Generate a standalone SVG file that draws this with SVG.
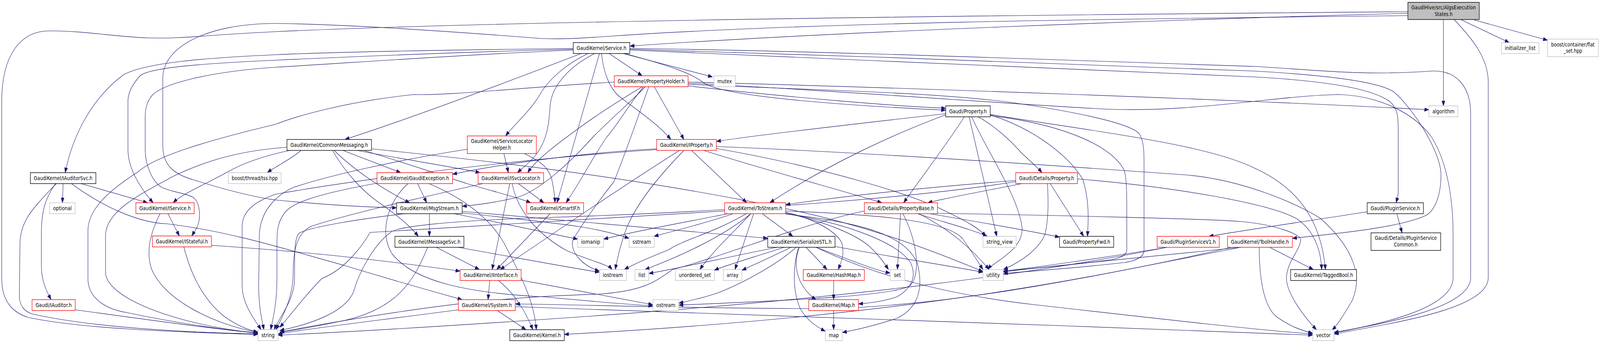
<svg xmlns="http://www.w3.org/2000/svg" width="4639" height="878" viewBox="0 0 4639 878">
<style>
.n rect{fill:#fff;stroke-width:1.4}
.k rect{stroke:#000}
.r rect{stroke:#ff0000}
.g rect{stroke:#bfbfbf}
#n_root rect{fill:#bfbfbf}
text{font-family:"DejaVu Sans Condensed","DejaVu Sans",sans-serif;font-size:14px;text-anchor:middle;fill:#000}
#edges path{fill:none;stroke:#191970;stroke-width:1.15;marker-end:url(#a)}
</style>
<defs>
<marker id="a" markerWidth="13" markerHeight="10" refX="13" refY="4.75" orient="auto" markerUnits="userSpaceOnUse"><path d="M0,0 L13,4.75 L0,9.5 z" fill="#191970" stroke="#191970" stroke-width="0.8"/></marker>
</defs>
<rect x="0" y="0" width="4639" height="878" fill="#fff"/>
<g id="diagram" transform="scale(0.88295,1)">
<g id="edges">
<path d="M4082,34 C3400,50 2400,82 1826,118"/>
<path d="M4082,30 C3000,38 1500,52 800,81 C600,89 530,100 430,97 C330,94 250,79 143,79 C60,79 5,140 5,260 L5,713 C5,775 40,800 80,812 C220,840 500,850 748,856"/>
<path d="M4082,40 C3300,48 2400,55 1780,92 C1700,97 1620,102 1560,98 C1300,80 1000,62 800,60 C600,60 472,120 472,200 L472,373 C472,420 500,445 560,460 C650,485 740,505 800,512 C950,525 1050,530 1150,532"/>
<path d="M4185,50 L4185,271"/>
<path d="M4235,50 L4376,109"/>
<path d="M4274,51 L4487,103"/>
<path d="M4216,50 C4270,100 4315,150 4315,210 L4315,711 C4315,790 4050,825 3868,855"/>
<path d="M1662,124 C1300,128 1000,132 800,140 C600,148 420,160 357,192 C270,250 212,340 189,442"/>
<path d="M1662,126 C1300,134 1000,146 800,154 C600,162 430,172 405,195 C380,220 371,240 371,260 L371,383 C371,430 405,480 444,519"/>
<path d="M1662,128 C1300,142 1000,162 800,172 C600,184 470,215 440,245 C425,262 421,280 421,300 L421,383 C421,420 440,465 470,480 C500,492 540,495 560,505 C582,520 582,560 572,580 C566,592 560,598 556,604"/>
<path d="M1685,137 C1500,200 1200,300 1000,357"/>
<path d="M1705,137 C1650,160 1590,200 1560,250 C1530,290 1490,320 1466,348"/>
<path d="M1724,137 C1650,170 1600,220 1595,270 C1592,320 1585,360 1555,395 C1535,418 1515,430 1500,442"/>
<path d="M1738,137 L1615,519"/>
<path d="M1744,137 C1750,190 1770,230 1800,250 C1860,290 1910,320 1945,357"/>
<path d="M1766,137 L1862,194"/>
<path d="M1798,135 L2066,197"/>
<path d="M1811,137 C1950,170 2010,190 2040,212 C2100,250 2500,272 2742,282"/>
<path d="M1826,124 C2400,130 3200,158 3639,170 C3800,178 3950,195 4149,182 C4230,178 4264,230 4264,290 L4264,711 C4264,790 4000,830 3868,851"/>
<path d="M1826,126 C2400,140 3300,170 3639,182 C3800,190 3990,205 4041,235 C4100,280 4178,390 4178,448 C4178,500 4160,540 4133,552 C4050,585 3850,600 3747,610"/>
<path d="M1826,128 C2400,150 3300,185 3639,197 C3900,210 3990,235 4030,260 C4054,280 4054,300 4054,340 L4054,490 C4054,505 4050,512 4048,519"/>
<path d="M1995,220 C2300,250 2600,272 2742,277"/>
<path d="M1995,210 C2600,224 3600,255 4143,281"/>
<path d="M1995,213 C2400,230 2900,265 3200,279 C3450,290 3700,245 3881,242 C4000,245 4100,290 4150,350 C4200,420 4213,520 4213,600 L4213,711 C4213,790 4000,830 3868,852"/>
<path d="M1995,216 C2400,232 2700,236 2930,262 C3150,290 3290,320 3305,345 C3317,365 3317,390 3317,420 L3317,640 C3317,660 3290,668 3260,672 C3100,688 2960,696 2909,700"/>
<path d="M1781,210 C1500,225 1300,245 1200,242 C1000,260 850,300 800,318 C600,360 450,400 400,440 C330,480 255,530 255,590 L255,713 C255,760 300,790 367,800 C500,825 650,845 748,852"/>
<path d="M1897,222 L1983,357"/>
<path d="M1862,222 C1800,255 1720,300 1660,340 C1590,385 1550,415 1530,442"/>
<path d="M1871,222 C1830,260 1780,297 1720,350 C1650,420 1560,490 1500,505 C1430,520 1380,525 1340,528"/>
<path d="M1866,222 C1830,260 1790,320 1760,350 C1720,400 1680,470 1641,519"/>
<path d="M1881,222 C1850,300 1810,400 1780,465 C1740,510 1690,570 1660,616 C1655,650 1690,680 1738,694"/>
<path d="M1970,385 C1800,480 1600,600 1450,690"/>
<path d="M1983,385 C1900,460 1835,533 1810,600 C1795,640 1788,670 1784,690"/>
<path d="M1904,381 C1700,390 1450,420 1312,446"/>
<path d="M1904,383 C1600,400 1100,450 800,497 C740,515 702,540 702,580 L702,730 C702,780 740,820 757,844"/>
<path d="M2005,385 L2165,519"/>
<path d="M2040,385 C2200,430 2450,490 2557,519"/>
<path d="M2077,375 C2500,390 3000,420 3442,448 C3600,460 3760,520 3830,560 C3930,640 3950,711 3920,770 C3900,800 3880,830 3862,845"/>
<path d="M2077,380 C2400,430 2650,500 2740,540 C2800,565 2840,585 2858,605"/>
<path d="M2742,291 C2500,315 2200,345 2077,362"/>
<path d="M2742,294 C2600,340 2400,420 2232,519"/>
<path d="M2796,299 C2760,350 2700,420 2620,519"/>
<path d="M2836,299 C2880,320 2930,359 2960,390 C2990,415 3010,430 3021,442"/>
<path d="M2810,299 L2890,605"/>
<path d="M2817,299 C2870,400 2950,500 2963,580 C2970,640 2880,670 2864,690"/>
<path d="M2871,294 C3000,330 3100,400 3140,460 C3160,520 3155,570 3153,605"/>
<path d="M2871,293 C3200,340 3500,370 3639,431 C3760,480 3830,560 3843,690"/>
<path d="M2871,296 C3100,320 3230,380 3260,437 C3267,460 3267,500 3267,540 L3267,640 C3267,655 3240,662 3220,665 C3100,680 2950,690 2909,694"/>
<path d="M3045,470 L3142,605"/>
<path d="M3037,470 C3040,520 3040,560 3030,600 C3010,640 2960,670 2909,690"/>
<path d="M2945,462 C2740,476 2500,495 2278,524"/>
<path d="M2963,470 C2850,490 2750,505 2690,519"/>
<path d="M2945,465 C2700,500 2200,540 1580,557 C1300,565 1150,580 1132,595 C1080,630 1040,700 1025,747 C1000,800 900,830 811,846"/>
<path d="M3124,458 C3400,478 3680,520 3760,560 C3810,590 3830,640 3832,690"/>
<path d="M2718,546 C3000,550 3500,560 3597,567 C3700,575 3771,600 3771,613 C3771,640 3730,670 3730,713 C3730,750 3780,810 3817,844"/>
<path d="M2695,547 C2850,570 2980,590 3072,607"/>
<path d="M2126,547 C2050,570 1960,590 1896,605"/>
<path d="M2111,547 C1980,570 1850,590 1750,612"/>
<path d="M2164,547 C2060,600 1990,610 1937,640 C1880,660 1840,675 1810,690"/>
<path d="M2177,547 C2090,610 1960,660 1870,690"/>
<path d="M2177,547 C2120,600 2060,650 2029,690"/>
<path d="M2185,547 L2131,690"/>
<path d="M2210,547 L2299,605"/>
<path d="M2278,543 C2360,560 2420,590 2440,620 C2450,650 2440,670 2430,690"/>
<path d="M2278,545 C2400,570 2480,600 2520,630 C2550,655 2565,675 2576,690"/>
<path d="M2278,547 C2450,570 2600,620 2640,672 C2660,710 2640,740 2600,760 C2560,772 2520,776 2489,778"/>
<path d="M2278,548 C2500,570 2620,600 2659,672 C2680,740 2660,790 2600,815 C2530,835 2480,845 2442,851"/>
<path d="M2101,540 L1073,595 C1050,630 1000,690 933,713 C880,760 840,810 811,838"/>
<path d="M2278,540 C2500,548 2740,560 2790,610 C2815,640 2835,670 2850,690"/>
<path d="M2611,547 L2602,690"/>
<path d="M2618,547 C2660,620 2670,700 2640,730 C2600,760 2200,772 1968,781"/>
<path d="M2660,547 C2740,570 2810,585 2863,605"/>
<path d="M2664,547 C2760,590 2820,640 2868,690"/>
<path d="M2506,540 C2300,580 2120,650 1950,690 C1900,720 1870,745 1733,753 C1500,760 1300,770 811,850"/>
<path d="M2253,633 C2100,660 1950,690 1881,700"/>
<path d="M2274,633 C2180,660 2100,680 2071,692"/>
<path d="M2294,633 C2230,660 2180,680 2151,692"/>
<path d="M2337,633 L2398,690"/>
<path d="M2366,633 C2450,660 2530,690 2581,699"/>
<path d="M2318,633 C2305,660 2305,690 2320,720 C2335,745 2350,758 2366,767"/>
<path d="M2315,633 C2300,680 2296,740 2320,790 C2340,820 2365,835 2393,848"/>
<path d="M2308,633 C2250,680 2143,729 2080,750 C2040,762 2000,770 1968,776"/>
<path d="M2421,631 C2600,660 2750,680 2850,697"/>
<path d="M2366,633 C2500,690 2700,750 3000,780 C3400,820 3650,845 3806,855"/>
<path d="M2417,718 L2417,767"/>
<path d="M2417,795 L2417,844"/>
<path d="M1245,547 L1245,605"/>
<path d="M1173,547 C1050,560 900,580 867,597 C854,610 854,640 854,713 C854,770 810,810 795,844"/>
<path d="M1340,541 C1700,570 2000,590 2226,610"/>
<path d="M1316,547 C1450,570 1580,595 1675,612"/>
<path d="M1340,545 C1500,560 1600,570 1680,580 C1750,590 1790,600 1824,610"/>
<path d="M1265,633 L1390,690"/>
<path d="M1240,633 C1200,720 1150,790 1000,820 C920,835 860,845 811,850"/>
<path d="M1328,633 C1500,660 1650,685 1738,697"/>
<path d="M1420,718 L1415,767"/>
<path d="M1445,718 C1490,750 1520,790 1545,844"/>
<path d="M1510,717 C1650,740 1800,765 1893,780"/>
<path d="M1442,795 L1525,844"/>
<path d="M1329,793 C1100,820 900,840 806,855"/>
<path d="M1494,785 C2000,800 3000,830 3806,858"/>
<path d="M1478,470 L1427,690"/>
<path d="M1503,470 L1577,519"/>
<path d="M1400,470 C1200,510 1000,550 900,580 C860,600 850,640 850,700 C850,760 820,810 800,844"/>
<path d="M1485,470 C1500,540 1560,600 1640,640 C1700,665 1760,675 1775,690"/>
<path d="M1595,547 L1440,690"/>
<path d="M183,470 L181,519"/>
<path d="M161,470 C130,510 120,540 120,600 L120,680 C120,720 135,745 148,767"/>
<path d="M163,470 C100,530 61,560 58,620 L56,763 C60,785 70,795 90,803 C250,835 500,850 748,855"/>
<path d="M235,470 L428,519"/>
<path d="M207,470 C300,530 400,570 485,573 C650,590 800,630 1000,680 C1150,720 1250,745 1340,767"/>
<path d="M218,793 C400,815 600,840 748,853"/>
<path d="M487,547 L520,604"/>
<path d="M464,547 C440,590 420,640 440,690 C480,770 620,830 748,851"/>
<path d="M533,632 C550,690 580,760 650,810 C690,835 720,845 748,850"/>
<path d="M613,628 C900,645 1100,665 1334,694"/>
<path d="M964,385 C1000,440 1050,490 1106,523 C1150,550 1190,580 1213,605"/>
<path d="M969,385 C1020,430 1100,480 1188,519"/>
<path d="M994,385 L1162,442"/>
<path d="M1035,385 C1150,405 1300,425 1392,442"/>
<path d="M1054,385 C1150,410 1250,440 1354,470 C1430,490 1500,505 1539,519"/>
<path d="M1077,381 C1400,410 1800,450 2200,520 C2500,570 2700,640 2850,695"/>
<path d="M840,385 C760,400 700,420 660,440 C600,470 530,495 502,519"/>
<path d="M873,385 C840,410 800,425 775,442"/>
<path d="M832,377 C700,385 600,410 505,450 C400,500 310,540 306,600 L306,697 C306,760 500,830 748,853"/>
<path d="M1461,393 L1474,442"/>
<path d="M1520,393 C1560,410 1590,425 1600,460 C1607,490 1609,505 1609,519"/>
<path d="M1355,382 C1150,410 950,450 850,480 C800,500 755,540 752,600 L750,730 C750,790 760,820 765,844"/>
<path d="M1211,470 L1237,519"/>
<path d="M1093,469 C960,490 857,513 830,540 C805,565 803,590 803,620 L803,713 C803,780 790,820 785,844"/>
<path d="M1244,470 C1350,510 1420,560 1460,620 C1520,720 1550,780 1555,844"/>
<path d="M1183,470 C1120,520 1100,600 1137,650 C1200,720 1350,750 1580,760 C1700,770 1800,778 1893,783"/>
<path d="M4050,547 L4065,596"/>
<path d="M3964,542 C3800,565 3600,590 3505,605"/>
<path d="M3384,633 C3200,660 3000,685 2909,694"/>
<path d="M3384,633 C3000,700 2500,760 1700,810 C1300,835 1000,850 806,858"/>
<path d="M3681,633 L3808,690"/>
<path d="M3651,633 C3651,700 3660,780 3700,810 C3740,835 3770,845 3806,853"/>
<path d="M3598,633 C3300,660 3000,685 2909,696"/>
<path d="M3598,633 C3200,700 2800,781 2400,790 C2000,790 1700,780 1494,778"/>
<path d="M3570,633 C3000,750 2400,820 1636,856"/>
</g>
<g id="n_root" class="n k"><rect x="4082" y="6" width="207" height="44"/><text x="4185.5" y="24.5" textLength="187" lengthAdjust="spacingAndGlyphs">GaudiHive/src/AlgsExecution</text><text x="4185.5" y="41.5">States.h</text></g>
<g id="n_service" class="n k"><rect x="1662" y="109" width="164" height="28"/><text x="1744" y="128" textLength="144" lengthAdjust="spacingAndGlyphs">GaudiKernel/Service.h</text></g>
<g id="n_initlist" class="n g"><rect x="4353" y="109" width="109" height="28"/><text x="4407.5" y="128" textLength="89" lengthAdjust="spacingAndGlyphs">initializer_list</text></g>
<g id="n_flatset" class="n g"><rect x="4487" y="100" width="147" height="45"/><text x="4560.5" y="118.7" textLength="126" lengthAdjust="spacingAndGlyphs">boost/container/flat</text><text x="4560.5" y="135.5">_set.hpp</text></g>
<g id="n_algorithm" class="n g"><rect x="4143" y="271" width="84" height="28"/><text x="4185" y="290" textLength="64" lengthAdjust="spacingAndGlyphs">algorithm</text></g>
<g id="n_vector" class="n g"><rect x="3806" y="844" width="62" height="28"/><text x="3837" y="863" textLength="42" lengthAdjust="spacingAndGlyphs">vector</text></g>
<g id="n_string" class="n g"><rect x="748" y="844" width="58" height="28"/><text x="777" y="863" textLength="38" lengthAdjust="spacingAndGlyphs">string</text></g>
<g id="n_iauditorsvc" class="n k"><rect x="88" y="442" width="190" height="28"/><text x="183" y="461" textLength="170" lengthAdjust="spacingAndGlyphs">GaudiKernel/IAuditorSvc.h</text></g>
<g id="n_optional" class="n g"><rect x="144" y="519" width="74" height="28"/><text x="181" y="538" textLength="54" lengthAdjust="spacingAndGlyphs">optional</text></g>
<g id="n_iauditor" class="n r"><rect x="93" y="767" width="125" height="28"/><text x="155.5" y="786" textLength="105" lengthAdjust="spacingAndGlyphs">Gaudi/IAuditor.h</text></g>
<g id="n_iservice" class="n r"><rect x="394" y="519" width="169" height="28"/><text x="478.5" y="538" textLength="149" lengthAdjust="spacingAndGlyphs">GaudiKernel/IService.h</text></g>
<g id="n_istateful" class="n r"><rect x="442" y="604" width="171" height="28"/><text x="527.5" y="623" textLength="151" lengthAdjust="spacingAndGlyphs">GaudiKernel/IStateful.h</text></g>
<g id="n_commonmsg" class="n k"><rect x="832" y="357" width="245" height="28"/><text x="954.5" y="376" textLength="225" lengthAdjust="spacingAndGlyphs">GaudiKernel/CommonMessaging.h</text></g>
<g id="n_tss" class="n g"><rect x="662" y="442" width="153" height="28"/><text x="738.5" y="461" textLength="133" lengthAdjust="spacingAndGlyphs">boost/thread/tss.hpp</text></g>
<g id="n_gaudiexc" class="n r"><rect x="1093" y="442" width="219" height="28"/><text x="1202.5" y="461" textLength="199" lengthAdjust="spacingAndGlyphs">GaudiKernel/GaudiException.h</text></g>
<g id="n_isvcloc" class="n r"><rect x="1386" y="442" width="190" height="28"/><text x="1481" y="461" textLength="170" lengthAdjust="spacingAndGlyphs">GaudiKernel/ISvcLocator.h</text></g>
<g id="n_msgstream" class="n k"><rect x="1150" y="519" width="190" height="28"/><text x="1245" y="538" textLength="170" lengthAdjust="spacingAndGlyphs">GaudiKernel/MsgStream.h</text></g>
<g id="n_smartif" class="n r"><rect x="1527" y="519" width="165" height="28"/><text x="1609.5" y="538" textLength="145" lengthAdjust="spacingAndGlyphs">GaudiKernel/SmartIF.h</text></g>
<g id="n_imsgsvc" class="n k"><rect x="1145" y="605" width="200" height="28"/><text x="1245" y="624" textLength="180" lengthAdjust="spacingAndGlyphs">GaudiKernel/IMessageSvc.h</text></g>
<g id="n_iomanip" class="n g"><rect x="1675" y="605" width="75" height="28"/><text x="1712.5" y="624" textLength="55" lengthAdjust="spacingAndGlyphs">iomanip</text></g>
<g id="n_iinterface" class="n r"><rect x="1334" y="690" width="177" height="28"/><text x="1422.5" y="709" textLength="157" lengthAdjust="spacingAndGlyphs">GaudiKernel/IInterface.h</text></g>
<g id="n_iostream" class="n g"><rect x="1738" y="690" width="78" height="28"/><text x="1777" y="709" textLength="58" lengthAdjust="spacingAndGlyphs">iostream</text></g>
<g id="n_system" class="n r"><rect x="1329" y="767" width="165" height="28"/><text x="1411.5" y="786" textLength="145" lengthAdjust="spacingAndGlyphs">GaudiKernel/System.h</text></g>
<g id="n_kernel" class="n k"><rect x="1478" y="844" width="158" height="28"/><text x="1557" y="863" textLength="138" lengthAdjust="spacingAndGlyphs">GaudiKernel/Kernel.h</text></g>
<g id="n_slhelper" class="n r"><rect x="1355" y="348" width="200" height="45"/><text x="1455" y="366" textLength="179" lengthAdjust="spacingAndGlyphs">GaudiKernel/ServiceLocator</text><text x="1455" y="383.5">Helper.h</text></g>
<g id="n_propholder" class="n r"><rect x="1781" y="194" width="214" height="28"/><text x="1888" y="213" textLength="194" lengthAdjust="spacingAndGlyphs">GaudiKernel/PropertyHolder.h</text></g>
<g id="n_mutex" class="n g"><rect x="2070" y="194" width="62" height="28"/><text x="2101" y="213" textLength="42" lengthAdjust="spacingAndGlyphs">mutex</text></g>
<g id="n_property" class="n k"><rect x="2742" y="271" width="129" height="28"/><text x="2806.5" y="290" textLength="109" lengthAdjust="spacingAndGlyphs">Gaudi/Property.h</text></g>
<g id="n_iproperty" class="n r"><rect x="1904" y="357" width="173" height="28"/><text x="1990.5" y="376" textLength="153" lengthAdjust="spacingAndGlyphs">GaudiKernel/IProperty.h</text></g>
<g id="n_tostream" class="n r"><rect x="2101" y="519" width="177" height="28"/><text x="2189.5" y="538" textLength="157" lengthAdjust="spacingAndGlyphs">GaudiKernel/ToStream.h</text></g>
<g id="n_propbase" class="n r"><rect x="2506" y="519" width="212" height="28"/><text x="2612" y="538" textLength="192" lengthAdjust="spacingAndGlyphs">Gaudi/Details/PropertyBase.h</text></g>
<g id="n_sstream" class="n g"><rect x="1824" y="605" width="73" height="28"/><text x="1860.5" y="624" textLength="53" lengthAdjust="spacingAndGlyphs">sstream</text></g>
<g id="n_serializestl" class="n k"><rect x="2226" y="605" width="195" height="28"/><text x="2323.5" y="624" textLength="175" lengthAdjust="spacingAndGlyphs">GaudiKernel/SerializeSTL.h</text></g>
<g id="n_list" class="n g"><rect x="1841" y="690" width="40" height="28"/><text x="1861" y="709" textLength="20" lengthAdjust="spacingAndGlyphs">list</text></g>
<g id="n_uset" class="n g"><rect x="1958" y="690" width="113" height="28"/><text x="2014.5" y="709" textLength="93" lengthAdjust="spacingAndGlyphs">unordered_set</text></g>
<g id="n_array" class="n g"><rect x="2097" y="690" width="54" height="28"/><text x="2124" y="709" textLength="34" lengthAdjust="spacingAndGlyphs">array</text></g>
<g id="n_hashmap" class="n r"><rect x="2329" y="690" width="177" height="28"/><text x="2417.5" y="709" textLength="157" lengthAdjust="spacingAndGlyphs">GaudiKernel/HashMap.h</text></g>
<g id="n_set" class="n g"><rect x="2581" y="690" width="42" height="28"/><text x="2602" y="709" textLength="20" lengthAdjust="spacingAndGlyphs">set</text></g>
<g id="n_ostream" class="n g"><rect x="1893" y="767" width="75" height="28"/><text x="1930.5" y="786" textLength="55" lengthAdjust="spacingAndGlyphs">ostream</text></g>
<g id="n_maph" class="n r"><rect x="2345" y="767" width="144" height="28"/><text x="2417" y="786" textLength="124" lengthAdjust="spacingAndGlyphs">GaudiKernel/Map.h</text></g>
<g id="n_map" class="n g"><rect x="2393" y="844" width="49" height="28"/><text x="2417.5" y="863" textLength="29" lengthAdjust="spacingAndGlyphs">map</text></g>
<g id="n_detprop" class="n r"><rect x="2945" y="442" width="179" height="28"/><text x="3034.5" y="461" textLength="159" lengthAdjust="spacingAndGlyphs">Gaudi/Details/Property.h</text></g>
<g id="n_strview" class="n g"><rect x="2850" y="605" width="96" height="28"/><text x="2898" y="624" textLength="76" lengthAdjust="spacingAndGlyphs">string_view</text></g>
<g id="n_propfwd" class="n k"><rect x="3072" y="605" width="157" height="28"/><text x="3150.5" y="624" textLength="137" lengthAdjust="spacingAndGlyphs">Gaudi/PropertyFwd.h</text></g>
<g id="n_psv1" class="n r"><rect x="3355" y="605" width="180" height="28"/><text x="3445" y="624" textLength="160" lengthAdjust="spacingAndGlyphs">Gaudi/PluginServiceV1.h</text></g>
<g id="n_toolhandle" class="n r"><rect x="3559" y="605" width="188" height="28"/><text x="3653" y="624" textLength="168" lengthAdjust="spacingAndGlyphs">GaudiKernel/ToolHandle.h</text></g>
<g id="n_utility" class="n g"><rect x="2850" y="690" width="59" height="28"/><text x="2879.5" y="709" textLength="39" lengthAdjust="spacingAndGlyphs">utility</text></g>
<g id="n_pluginsvc" class="n k"><rect x="3964" y="519" width="163" height="28"/><text x="4045.5" y="538" textLength="143" lengthAdjust="spacingAndGlyphs">Gaudi/PluginService.h</text></g>
<g id="n_pscommon" class="n k"><rect x="3975" y="596" width="202" height="45"/><text x="4076" y="614" textLength="180" lengthAdjust="spacingAndGlyphs">Gaudi/Details/PluginService</text><text x="4076" y="631">Common.h</text></g>
<g id="n_taggedbool" class="n k"><rect x="3742" y="690" width="191" height="28"/><text x="3837.5" y="709" textLength="171" lengthAdjust="spacingAndGlyphs">GaudiKernel/TaggedBool.h</text></g>
</g>
</svg>
